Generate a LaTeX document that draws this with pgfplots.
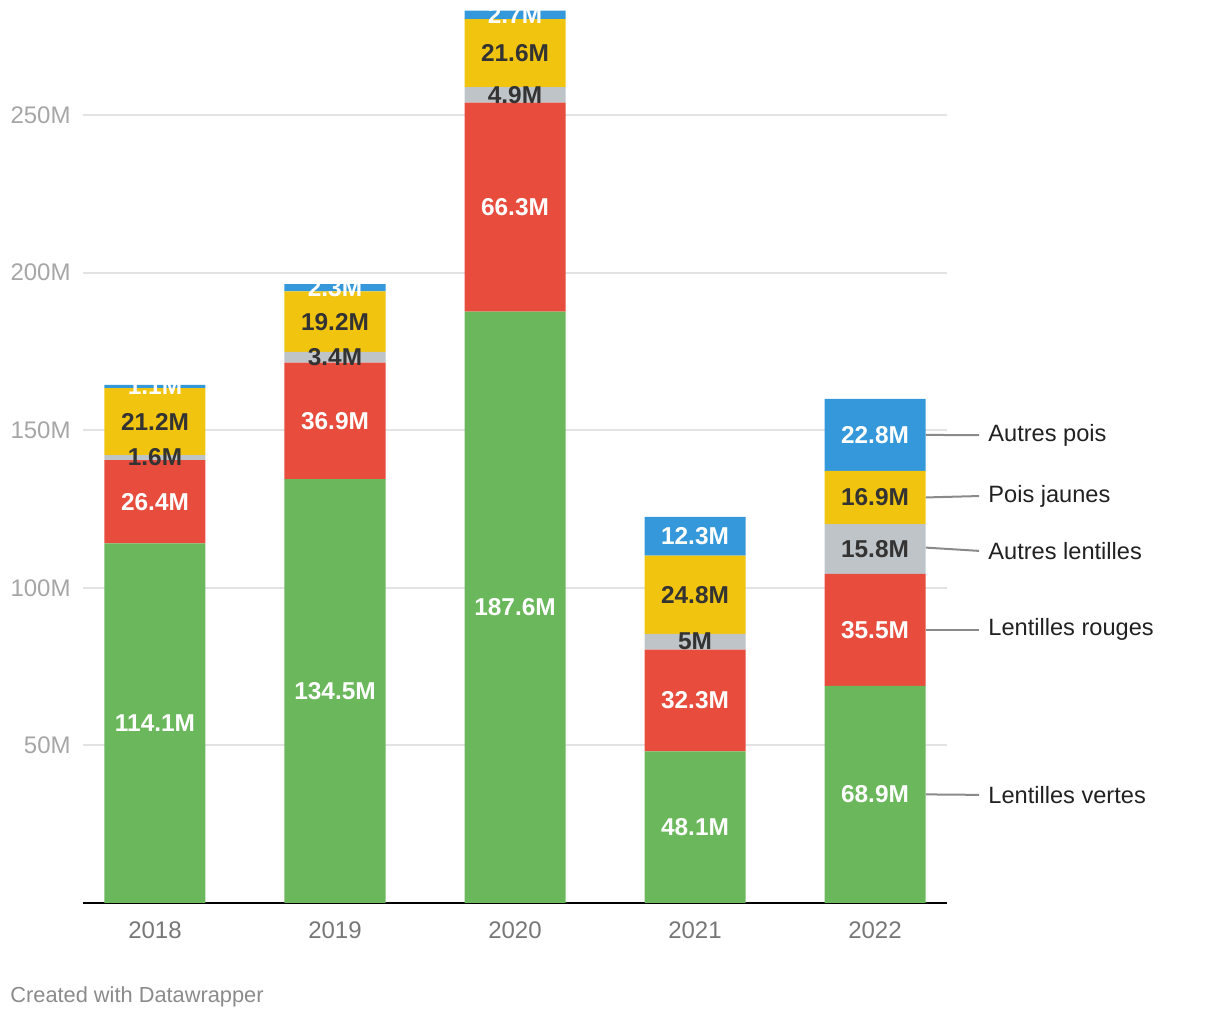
\documentclass[border=0pt]{standalone}
\usepackage{pgfplots}
\usepackage{pgfplotstable}
\pgfplotsset{compat=1.18}
\usepackage{fontspec}
\setmainfont{Liberation Sans}
\definecolor{cgreen}{HTML}{6BB85C}
\definecolor{cred}{HTML}{E74C3C}
\definecolor{cgray}{HTML}{BFC4C8}
\definecolor{cyellow}{HTML}{F1C40F}
\definecolor{cblue}{HTML}{3498DB}
\definecolor{cdark}{HTML}{333333}
\definecolor{ctick}{HTML}{A6A6A6}
\definecolor{cyear}{HTML}{777777}
\definecolor{cgrid}{HTML}{E3E3E3}
\definecolor{cleader}{HTML}{8A8A8A}
\newcommand\fsb{\fontsize{12.2}{14.6}\selectfont}
\newcommand\fst{\fontsize{12}{14.4}\selectfont}
\newcommand\fsl{\fontsize{11.8}{14.2}\selectfont}
\tikzset{segl/.style={anchor=center, inner sep=0pt, font=\fsb\bfseries, text=#1}}
\pgfplotstableread{
xx vertes rouges autlent jaunes autpois
0 114.1 26.4 1.6 21.2 1.1
1 134.5 36.9 3.4 19.2 2.3
2 187.6 66.3 4.9 21.6 2.7
3 48.1 32.3 5.0 24.8 12.3
4 68.9 35.5 15.8 16.9 22.8
}\datatab
\begin{document}
\begin{tikzpicture}
\begin{axis}[
  name=ax,
  width=432pt, height=446.5pt, scale only axis,
  xmin=-0.4, xmax=4.4, ymin=0, ymax=283.3,
  ybar stacked, bar width=50.5pt,
  clip=false,
  axis line style={draw=none},
  tick style={draw=none},
  xtick={0,1,2,3,4},
  xticklabels={2018,2019,2020,2021,2022},
  ytick={50,100,150,200,250},
  yticklabels={50M,100M,150M,200M,250M},
  ymajorgrids, grid style={cgrid, line width=1pt},
  yticklabel style={font=\fst, text=ctick, inner sep=0pt, anchor=east, xshift=-6pt},
  xticklabel style={font=\fst, text=cyear, inner sep=0pt, anchor=north, yshift=-9pt},
  point meta=explicit,
  nodes near coords={\pgfmathprintnumber[fixed,precision=1,assume math mode=true]{\pgfplotspointmeta}M},
]
\addplot[draw=none, fill=cgreen, every node near coord/.append style={segl=white}] table[x=xx, y=vertes, meta=vertes] {\datatab};
\addplot[draw=none, fill=cred, every node near coord/.append style={segl=white}] table[x=xx, y=rouges, meta=rouges] {\datatab};
\addplot[draw=none, fill=cgray, every node near coord/.append style={segl=cdark}] table[x=xx, y=autlent, meta=autlent] {\datatab};
\addplot[draw=none, fill=cyellow, every node near coord/.append style={segl=cdark}] table[x=xx, y=jaunes, meta=jaunes] {\datatab};
\addplot[draw=none, fill=cblue, every node near coord/.append style={segl=white}] table[x=xx, y=autpois, meta=autpois] {\datatab};
\draw[black, line width=1.1pt] (axis cs:-0.4,0) -- (axis cs:4.4,0);
\draw[cleader, line width=1pt] (axis cs:4.281,148.5) -- (axis cs:4.578,148.4);
\draw[cleader, line width=1pt] (axis cs:4.281,128.65) -- (axis cs:4.578,129.1);
\draw[cleader, line width=1pt] (axis cs:4.281,112.75) -- (axis cs:4.578,111.7);
\draw[cleader, line width=1pt] (axis cs:4.281,86.65) -- (axis cs:4.578,86.65);
\draw[cleader, line width=1pt] (axis cs:4.281,34.45) -- (axis cs:4.578,34.3);
\node[anchor=west, inner sep=0pt, font=\fsl, text=black!87] at (axis cs:4.628,148.4) {Autres pois};
\node[anchor=west, inner sep=0pt, font=\fsl, text=black!87] at (axis cs:4.628,129.1) {Pois jaunes};
\node[anchor=west, inner sep=0pt, font=\fsl, text=black!87] at (axis cs:4.628,111.7) {Autres lentilles};
\node[anchor=west, inner sep=0pt, font=\fsl, text=black!87] at (axis cs:4.628,86.65) {Lentilles rouges};
\node[anchor=west, inner sep=0pt, font=\fsl, text=black!87] at (axis cs:4.628,34.3) {Lentilles vertes};
\end{axis}
\node[anchor=west, inner sep=0pt, font=\fontsize{10.9}{13}\selectfont, text=cyear!85] at ([xshift=-36.5pt,yshift=-47pt]ax.south west) {Created with Datawrapper};
\pgfresetboundingbox
\path[use as bounding box] ([xshift=-41.5pt,yshift=-58.5pt]ax.south west) rectangle ++(610pt,510pt);
\end{tikzpicture}
\end{document}
